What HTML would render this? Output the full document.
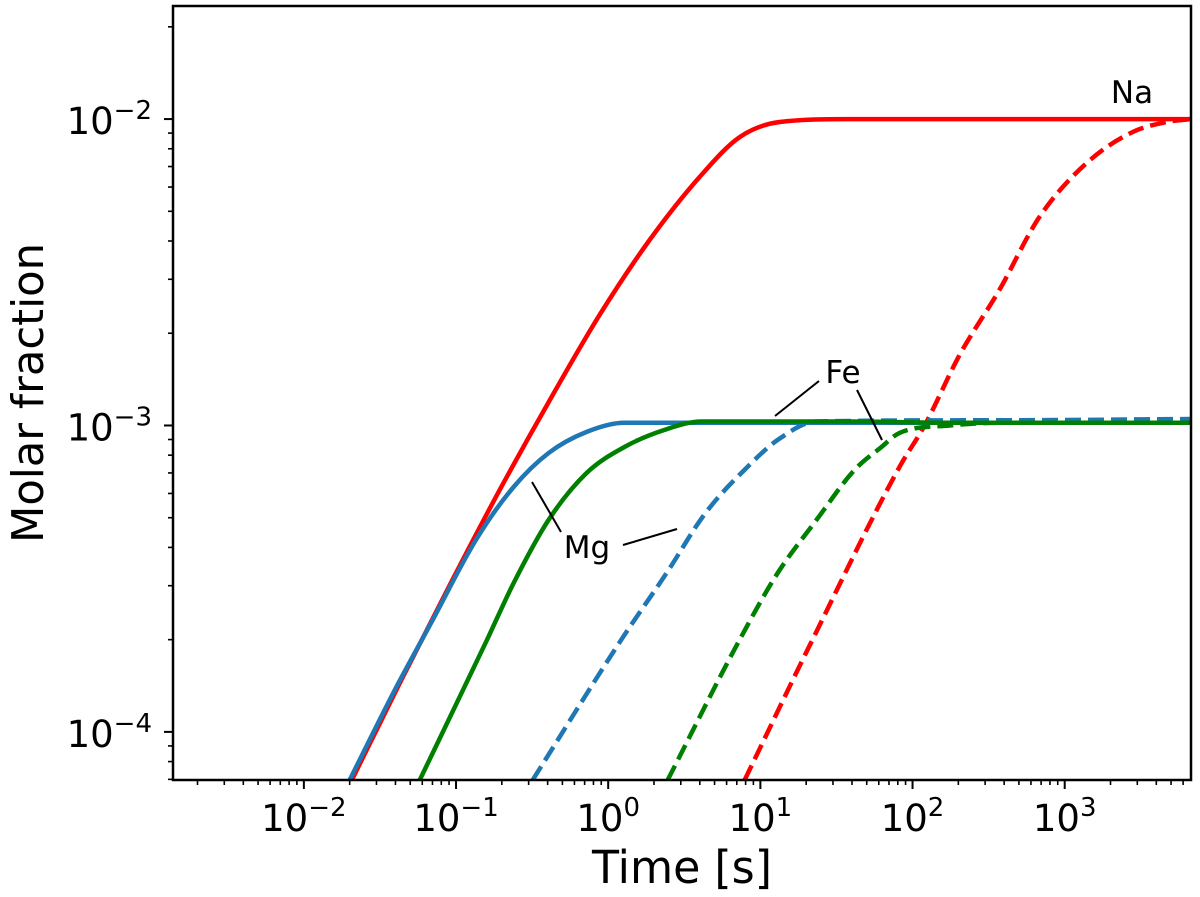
<!DOCTYPE html>
<html><head><meta charset="utf-8"><style>
html,body{margin:0;padding:0;background:#fff;}
svg{display:block;font-family:"DejaVu Sans","Liberation Sans",sans-serif;}
</style></head><body>
<svg id="chart" width="1200" height="897" viewBox="0 0 1200 897" xmlns="http://www.w3.org/2000/svg" style="position:absolute;left:0;top:0">
<g id="marks"></g>
<g id="axes"></g>
</svg>
<script>
// ---- data (time in s, molar fraction) ----
const naSolidT = [0.0207,0.0428,0.0911,0.194,0.413,0.88,1.87,3.99,7.31,13.4,38.5,6730];
const naSolidY = [6.97e-5,1.445e-4,3.02e-4,6.17e-4,1.21e-3,2.30e-3,4.03e-3,6.47e-3,8.73e-3,9.78e-3,0.01,0.01];
const naDashT = [7.89,22.0,82.2,120,204,372,682,1390,2790,4660,6730];
const naDashY = [6.97e-5,2.00e-4,7.33e-4,1.0e-3,1.70e-3,2.77e-3,4.79e-3,7.18e-3,9.07e-3,9.78e-3,0.01];
const mgSolidT = [0.0200,0.0396,0.0693,0.135,0.239,0.406,0.722,1.28,6730];
const mgSolidY = [6.97e-5,1.37e-4,2.29e-4,4.23e-4,6.30e-4,8.13e-4,9.53e-4,1.02e-3,1.02e-3];
const mgDashT = [0.319,1.22,2.42,4.37,8.24,13.0,23.4,372,6730];
const mgDashY = [6.97e-5,2.00e-4,3.30e-4,5.19e-4,7.33e-4,8.97e-4,1.03e-3,1.04e-3,1.05e-3];
const feSolidT = [0.0578,0.160,0.239,0.406,0.722,1.28,2.32,4.11,38.5,175,6730];
const feSolidY = [6.97e-5,2.00e-4,3.06e-4,4.92e-4,7.00e-4,8.51e-4,9.66e-4,1.03e-3,1.03e-3,1.02e-3,1.02e-3];
const feDashT = [2.46,7.31,13.0,23.4,41.6,62.5,82.2,175,372,6730];
const feDashY = [6.97e-5,2.00e-4,3.30e-4,4.92e-4,7.16e-4,8.51e-4,9.46e-4,1.00e-3,1.02e-3,1.02e-3];
const xTickExps = [-2,-1,0,1,2,3];
const yTickExps = [-4,-3,-2];

// ---- axes geometry ----
const L=173, R=1191, T=6, B=780;
const xMin=-2.86, xMax=3.83, yMin=-4.157, yMax=-1.631;
const xs = t => L + (Math.log10(t)-xMin)/(xMax-xMin)*(R-L);
const ys = v => B - (Math.log10(v)-yMin)/(yMax-yMin)*(B-T);
const NS="http://www.w3.org/2000/svg";
function mk(tag, attrs, parent){const e=document.createElementNS(NS,tag);for(const k in attrs)e.setAttribute(k,attrs[k]);parent.appendChild(e);return e;}
const marks=document.getElementById('marks'), axes=document.getElementById('axes');
const cp=mk('clipPath',{id:'clip'},marks);
mk('rect',{x:L,y:T,width:R-L,height:B-T},cp);
marks.setAttribute('clip-path','url(#clip)');

function smoothPath(P){
  const n=P.length, d=[], m=new Array(n);
  for(let i=0;i<n-1;i++) d.push((P[i+1][1]-P[i][1])/(P[i+1][0]-P[i][0]));
  m[0]=d[0]; m[n-1]=d[n-2];
  for(let i=1;i<n-1;i++){ m[i]=(d[i-1]*d[i]<=0)?0:(d[i-1]+d[i])/2; }
  for(let i=0;i<n-1;i++){
    if(d[i]===0){m[i]=0;m[i+1]=0;continue;}
    const a=m[i]/d[i], b=m[i+1]/d[i], s=a*a+b*b;
    if(s>9){const t=3/Math.sqrt(s); m[i]=t*a*d[i]; m[i+1]=t*b*d[i];}
  }
  let s='M'+P[0][0].toFixed(1)+','+P[0][1].toFixed(1);
  for(let i=0;i<n-1;i++){
    const h=(P[i+1][0]-P[i][0])/3;
    s+=' C'+(P[i][0]+h).toFixed(1)+','+(P[i][1]+m[i]*h).toFixed(1)+' '+(P[i+1][0]-h).toFixed(1)+','+(P[i+1][1]-m[i+1]*h).toFixed(1)+' '+P[i+1][0].toFixed(1)+','+P[i+1][1].toFixed(1);
  }
  return s;
}
function series(ts, vs, color, dashed, name){
  const P=ts.map((t,i)=>[xs(t),ys(vs[i])]);
  const p=mk('path',{d:smoothPath(P),fill:'none',stroke:color,'stroke-width':4.5,'stroke-linejoin':'round'},marks);
  if(dashed)p.setAttribute('stroke-dasharray','16,7');
  
  
}
series(naDashT,naDashY,'#ff0000',true,'na-dashed-line');
series(feDashT,feDashY,'#008000',true,'fe-dashed-line');
series(mgDashT,mgDashY,'#1f77b4',true,'mg-dashed-line');
series(naSolidT,naSolidY,'#ff0000',false,'na-solid-line');
series(mgSolidT,mgSolidY,'#1f77b4',false,'mg-solid-line');
series(feSolidT,feSolidY,'#008000',false,'fe-solid-line');

const fr=mk('rect',{x:L,y:T,width:R-L,height:B-T,fill:'none',stroke:'#000','stroke-width':2.5},axes);



for(let e=-3;e<=3;e++){
  for(let m=1;m<10;m++){
    const lx=e+Math.log10(m); if(lx<xMin||lx>xMax)continue;
    const x=L+(lx-xMin)/(xMax-xMin)*(R-L);
    const tk=mk('line',{x1:x,y1:B,x2:x,y2:B+(m===1?9:5),stroke:'#000','stroke-width':m===1?2:1.6},axes);
    
    
  }
}
xTickExps.forEach(e=>{
  const x=xs(Math.pow(10,e));
  const t=mk('text',{x:x,y:831,'font-size':37,'text-anchor':'middle'},axes);
  t.innerHTML='10<tspan dy="-15" font-size="26">'+(e<0?'\u2212'+(-e):e)+'</tspan>';
  
  
});
for(let e=-5;e<=-1;e++){
  for(let m=1;m<10;m++){
    const ly=e+Math.log10(m); if(ly<yMin||ly>yMax)continue;
    const y=B-(ly-yMin)/(yMax-yMin)*(B-T);
    const tk=mk('line',{x1:L,y1:y,x2:L-(m===1?9:5),y2:y,stroke:'#000','stroke-width':m===1?2:1.6},axes);
    
    
  }
}
yTickExps.forEach(e=>{
  const y=ys(Math.pow(10,e));
  const t=mk('text',{x:152,y:y+15,'font-size':37,'text-anchor':'end'},axes);
  t.innerHTML='10<tspan dy="-15" font-size="26">\u2212'+(-e)+'</tspan>';
  
  
});
</script>
<svg style="position:absolute;left:0;top:0" width="1200" height="897" xmlns="http://www.w3.org/2000/svg" font-family="DejaVu Sans, Liberation Sans, sans-serif">
<text x="592" y="883" font-size="45" textLength="180" lengthAdjust="spacingAndGlyphs">Time [s]</text>
<text transform="translate(43,543) rotate(-90)" font-size="44" textLength="300" lengthAdjust="spacingAndGlyphs">Molar fraction</text>
<text x="1132" y="103" font-size="31" text-anchor="middle">Na</text>
<text x="843" y="383" font-size="31" text-anchor="middle">Fe</text>
<text x="587" y="558" font-size="31" text-anchor="middle">Mg</text>
<g stroke="#000" stroke-width="2">
<line x1="532" y1="482" x2="561" y2="532"/>
<line x1="623" y1="545" x2="677" y2="529"/>
<line x1="819" y1="381" x2="775" y2="416"/>
<line x1="857" y1="390" x2="882" y2="440"/>
</g>
</svg>
</body></html>
